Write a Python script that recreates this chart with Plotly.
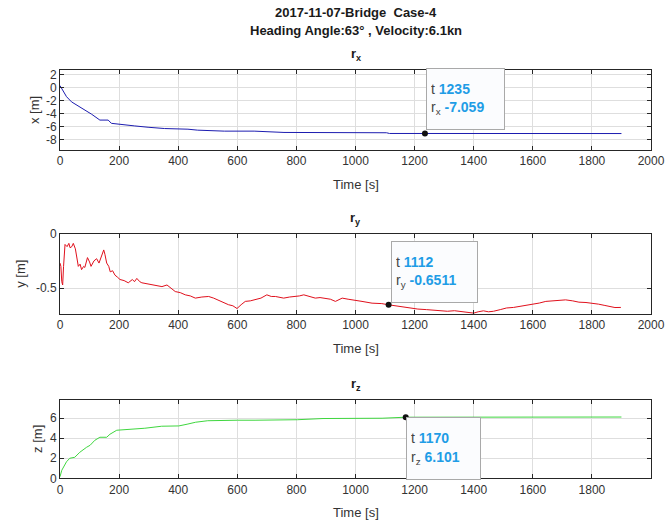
import plotly.graph_objects as go

# ---------------- data ----------------
rx_t = [0, 8, 22, 39, 62, 84, 107, 135, 163, 174, 208, 253, 298, 354, 433, 466,
        556, 657, 758, 882, 1000, 1105, 1115, 1235, 1400, 1600, 1800, 1900]
rx_v = [0.3, -0.4, -1.4, -2.2, -2.8, -3.5, -4.1, -5.0, -5.0, -5.5, -5.7, -5.9,
        -6.1, -6.3, -6.4, -6.55, -6.7, -6.7, -6.9, -6.9, -6.92, -6.95, -7.06,
        -7.059, -7.06, -7.07, -7.07, -7.07]

ry_t = [0, 3, 6, 9, 12, 17, 24, 30, 34, 40, 45, 52, 62, 68, 73, 80, 84, 93, 100,
        105, 115, 124, 132, 140, 148, 152, 158, 165, 170, 178, 186, 195, 203, 217,
        231, 245, 252, 260, 270, 277, 294, 311, 328, 345, 362, 376, 390, 407, 424,
        441, 458, 480, 503, 520, 537, 555, 570, 585, 599, 613, 627, 644, 661, 680,
        700, 715, 729, 743, 757, 777, 796, 810, 825, 845, 864, 880, 898, 915, 932,
        945, 955, 975, 994, 1022, 1056, 1089, 1112, 1135, 1156, 1185, 1211, 1240,
        1267, 1290, 1311, 1335, 1356, 1380, 1400, 1415, 1433, 1450, 1467, 1490,
        1511, 1535, 1556, 1580, 1600, 1622, 1644, 1665, 1689, 1711, 1735, 1756,
        1780, 1800, 1822, 1844, 1860, 1878, 1898]
ry_v = [-0.27, -0.30, -0.44, -0.47, -0.30, -0.10, -0.12, -0.09, -0.13, -0.12,
        -0.09, -0.14, -0.30, -0.28, -0.33, -0.30, -0.31, -0.22, -0.26, -0.30,
        -0.25, -0.23, -0.27, -0.20, -0.15, -0.19, -0.27, -0.30, -0.35, -0.34,
        -0.38, -0.40, -0.42, -0.43, -0.45, -0.42, -0.44, -0.41, -0.44, -0.45,
        -0.46, -0.47, -0.48, -0.485, -0.47, -0.50, -0.53, -0.54, -0.56, -0.57,
        -0.59, -0.58, -0.575, -0.59, -0.61, -0.63, -0.65, -0.66, -0.685, -0.65,
        -0.62, -0.615, -0.606, -0.59, -0.56, -0.575, -0.575, -0.585, -0.59,
        -0.58, -0.575, -0.57, -0.56, -0.575, -0.59, -0.585, -0.59, -0.60, -0.62,
        -0.60, -0.59, -0.60, -0.606, -0.62, -0.636, -0.64, -0.6511, -0.66,
        -0.675, -0.68, -0.69, -0.695, -0.70, -0.705, -0.71, -0.705, -0.71,
        -0.72, -0.727, -0.715, -0.706, -0.715, -0.71, -0.695, -0.68, -0.675,
        -0.667, -0.655, -0.645, -0.635, -0.62, -0.615, -0.606, -0.606, -0.615,
        -0.627, -0.63, -0.636, -0.645, -0.657, -0.665, -0.676, -0.675]

rz_t = [0, 6, 22, 33, 50, 67, 90, 102, 118, 135, 158, 169, 192, 230, 287, 344,
        402, 430, 459, 500, 545, 600, 660, 803, 890, 1090, 1170, 1377, 1900]
rz_v = [0.16, 0.8, 1.65, 2.0, 2.1, 2.6, 3.1, 3.3, 3.8, 4.1, 4.1, 4.4, 4.8, 4.85,
        5.0, 5.2, 5.23, 5.4, 5.6, 5.75, 5.8, 5.8, 5.8, 5.85, 5.97, 6.0, 6.101,
        6.1, 6.12]

tips = [  # (t, value, subscript, label)
    (1235, -7.059, "x", "-7.059"),
    (1112, -0.6511, "y", "-0.6511"),
    (1170, 6.101, "z", "6.101"),
]

x_ticks = [0, 200, 400, 600, 800, 1000, 1200, 1400, 1600, 1800, 2000]
x_ticks3 = [0, 200, 400, 600, 800, 1000, 1200, 1400, 1600, 1800]

# ---------------- figure ----------------
W, H = 667, 523
FONT = "Liberation Sans, Arial, Helvetica, sans-serif"
AX = "#262626"
TIPBLUE = "#1f9de6"

def py(p):  # pixel-from-top -> paper y
    return 1 - p / H

def px(p):
    return p / W

xdom = [px(60), px(651)]
boxes = [(70, 150), (233.5, 314), (399.5, 478.3)]

fig = go.Figure()
colors = ["#1c1cb0", "#e0101c", "#3fd63f"]
series = [(rx_t, rx_v), (ry_t, ry_v), (rz_t, rz_v)]
for i, ((t, v), c) in enumerate(zip(series, colors)):
    suf = "" if i == 0 else str(i + 1)
    fig.add_trace(go.Scatter(x=t, y=v, mode="lines", line=dict(color=c, width=1),
                             xaxis="x" + suf, yaxis="y" + suf, hoverinfo="skip"))
    tt, vv, _, _ = tips[i]
    fig.add_trace(go.Scatter(x=[tt], y=[vv], mode="markers",
                             marker=dict(color="#111", size=6),
                             xaxis="x" + suf, yaxis="y" + suf, hoverinfo="skip"))

common_x = dict(domain=xdom, range=[0, 2000], showgrid=True, gridcolor="#dedede",
                gridwidth=1, zeroline=False, showline=True, linecolor=AX, linewidth=1,
                mirror="ticks", ticks="inside", ticklen=4, tickcolor=AX,
                automargin=False,
                tickfont=dict(family=FONT, size=12, color="#333"))
common_y = dict(showgrid=True, gridcolor="#dedede", gridwidth=1, zeroline=False,
                showline=True, linecolor=AX, linewidth=1, mirror="ticks",
                ticks="inside", ticklen=4, tickcolor=AX, automargin=False,
                tickfont=dict(family=FONT, size=12, color="#333"))

yranges = [[-9.6, 2.7], [-0.735, 0], [0, 7.87]]
yticks = [[2, 0, -2, -4, -6, -8], [0, -0.5], [0, 2, 4, 6]]
yticktext = [["2", "0", "-2", "-4", "-6", "-8"], ["0", "-0.5"], ["0", "2", "4", "6"]]

lay = {}
for i in range(3):
    suf = "" if i == 0 else str(i + 1)
    top, bot = boxes[i]
    xt = x_ticks if i < 2 else x_ticks3
    xa = dict(common_x, anchor="y" + suf, tickvals=xt, ticktext=[str(v) for v in xt])
    ya = dict(common_y, anchor="x" + suf, domain=[py(bot), py(top)],
              range=yranges[i], tickvals=yticks[i], ticktext=yticktext[i])
    lay["xaxis" + suf] = xa
    lay["yaxis" + suf] = ya

fig.update_layout(**lay)

def txt_ann(text, x, y, size=13, color="#333", angle=0):
    return dict(text=text, x=px(x), y=py(y), xref="paper", yref="paper",
                xanchor="center", yanchor="middle", showarrow=False,
                textangle=angle, font=dict(family=FONT, size=size, color=color))

ann = []
ann.append(txt_ann("<b>2017-11-07-Bridge  Case-4</b>", 355.5, 12, color="#1a1a1a"))
ann.append(txt_ann("<b>Heading Angle:63° , Velocity:6.1kn</b>", 355.5, 30, color="#1a1a1a"))
names = ["x", "y", "z"]
ylab_x = [34, 21, 38]
for i in range(3):
    top, bot = boxes[i]
    ann.append(txt_ann("<b>r<sub>%s</sub></b>" % names[i], 355.5, top - 15, color="#1a1a1a"))
    ann.append(txt_ann("Time [s]", 355.5, bot + 34))
    ann.append(txt_ann("%s [m]" % names[i], ylab_x[i], (top + bot) / 2, angle=-90))

# data tips: (dx, dy offset of box center from point, box w, h)
tip_geom = [(41, -34, 79, 62), (46, -33, 87, 62), (38, 31, 75, 63)]
for i in range(3):
    suf = "" if i == 0 else str(i + 1)
    tt, vv, nm, lab = tips[i]
    dx, dy, bw, bh = tip_geom[i]
    txt = ("t <span style='color:%s'><b>%d</b></span><br>"
           "r<sub>%s</sub> <span style='color:%s'><b>%s</b></span>"
           % (TIPBLUE, tt, nm, TIPBLUE, lab))
    ann.append(dict(text=txt, x=tt, y=vv, xref="x" + suf, yref="y" + suf,
                    showarrow=True, ax=dx, ay=dy, arrowcolor="rgba(0,0,0,0)",
                    arrowwidth=0.1, standoff=0, startstandoff=0,
                    bgcolor="#fbfcfe", bordercolor="#a9a9a9", borderwidth=1,
                    borderpad=4, width=bw - 10, height=bh - 10, align="left",
                    valign="middle",
                    font=dict(family=FONT, size=14, color="#444")))

fig.update_layout(width=W, height=H, margin=dict(l=0, r=0, t=0, b=0, autoexpand=False),
                  paper_bgcolor="white", plot_bgcolor="white", showlegend=False,
                  annotations=ann)

fig.write_html("out.html", config={"displayModeBar": False},
               post_script="document.body.style.margin='0';")
